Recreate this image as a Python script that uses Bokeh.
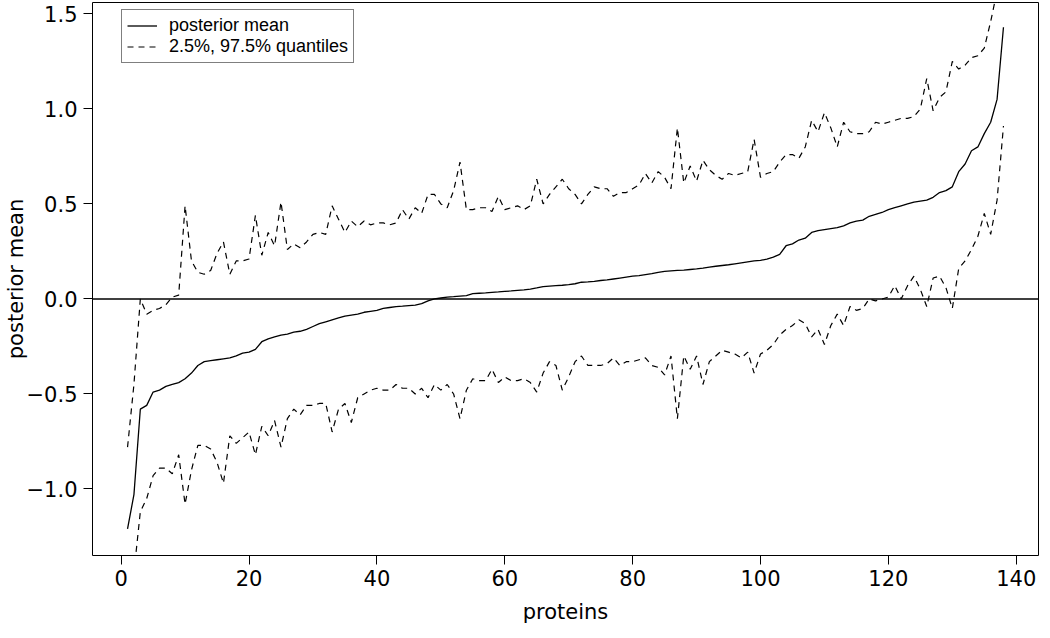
from bokeh.plotting import figure
from bokeh.models import (Range1d, FixedTicker, CustomJSTickFormatter, Span,
                          Legend, LegendItem, ColumnDataSource)
from bokeh.embed import file_html
from bokeh.resources import INLINE

# ---------------- data ----------------
protein = list(range(1, 139))

post_mean = [
    -1.21, -1.03, -0.58, -0.56, -0.49, -0.48, -0.46, -0.45, -0.44, -0.42,
    -0.39, -0.35, -0.33, -0.325, -0.32, -0.315, -0.31, -0.30, -0.285, -0.28,
    -0.265, -0.225, -0.21, -0.20, -0.19, -0.185, -0.175, -0.17, -0.16, -0.145,
    -0.13, -0.12, -0.11, -0.10, -0.09, -0.085, -0.08, -0.07, -0.065, -0.06,
    -0.05, -0.045, -0.04, -0.038, -0.035, -0.033, -0.025, -0.01, 0.0, 0.005,
    0.01, 0.012, 0.015, 0.018, 0.028, 0.03, 0.032, 0.035, 0.037, 0.04,
    0.042, 0.045, 0.048, 0.052, 0.058, 0.065, 0.068, 0.07, 0.072, 0.075,
    0.08, 0.088, 0.09, 0.093, 0.097, 0.10, 0.105, 0.11, 0.115, 0.12,
    0.123, 0.128, 0.133, 0.14, 0.145, 0.148, 0.15, 0.152, 0.155, 0.158,
    0.162, 0.168, 0.172, 0.176, 0.18, 0.185, 0.19, 0.195, 0.20, 0.203,
    0.21, 0.22, 0.235, 0.28, 0.29, 0.31, 0.32, 0.35, 0.36, 0.365,
    0.37, 0.375, 0.385, 0.40, 0.41, 0.415, 0.435, 0.445, 0.455, 0.47,
    0.48, 0.49, 0.50, 0.51, 0.515, 0.52, 0.535, 0.56, 0.57, 0.59,
    0.67, 0.71, 0.78, 0.80, 0.87, 0.93, 1.05, 1.43,
]

q975 = [
    -0.78, -0.45, 0.0, -0.08, -0.06, -0.05, -0.03, 0.01, 0.02, 0.49,
    0.20, 0.14, 0.13, 0.15, 0.24, 0.30, 0.13, 0.20, 0.20, 0.21,
    0.44, 0.23, 0.35, 0.28, 0.51, 0.26, 0.29, 0.27, 0.30, 0.34,
    0.35, 0.34, 0.49, 0.42, 0.35, 0.41, 0.38, 0.41, 0.39, 0.40,
    0.40, 0.39, 0.40, 0.47, 0.42, 0.48, 0.45, 0.55, 0.55, 0.50,
    0.48, 0.57, 0.72, 0.47, 0.47, 0.48, 0.48, 0.46, 0.54, 0.47,
    0.48, 0.49, 0.47, 0.49, 0.63, 0.50, 0.55, 0.59, 0.63, 0.58,
    0.55, 0.50, 0.55, 0.59, 0.58, 0.58, 0.54, 0.56, 0.56, 0.58,
    0.60, 0.66, 0.61, 0.67, 0.64, 0.58, 0.90, 0.61, 0.70, 0.62,
    0.73, 0.68, 0.65, 0.63, 0.66, 0.65, 0.66, 0.67, 0.84, 0.64,
    0.66, 0.67, 0.72, 0.76, 0.76, 0.74, 0.80, 0.94, 0.88, 0.98,
    0.90, 0.80, 0.93, 0.88, 0.87, 0.87, 0.88, 0.93, 0.92, 0.93,
    0.94, 0.95, 0.95, 0.96, 1.00, 1.16, 0.99, 1.06, 1.09, 1.25,
    1.21, 1.23, 1.27, 1.28, 1.32, 1.46, 1.62, 1.95,
]

q025 = [
    -1.85, -1.44, -1.12, -1.05, -0.93, -0.89, -0.89, -0.92, -0.82, -1.08,
    -0.90, -0.77, -0.77, -0.79, -0.86, -0.97, -0.72, -0.76, -0.73, -0.70,
    -0.82, -0.67, -0.72, -0.64, -0.78, -0.63, -0.58, -0.61, -0.56, -0.56,
    -0.55, -0.55, -0.70, -0.58, -0.55, -0.65, -0.52, -0.50, -0.48, -0.47,
    -0.48, -0.48, -0.45, -0.47, -0.47, -0.50, -0.47, -0.52, -0.45, -0.48,
    -0.45, -0.50, -0.63, -0.48, -0.42, -0.43, -0.43, -0.37, -0.44, -0.41,
    -0.43, -0.43, -0.42, -0.44, -0.49, -0.39, -0.33, -0.35, -0.48, -0.41,
    -0.33, -0.30, -0.35, -0.35, -0.35, -0.34, -0.31, -0.35, -0.33, -0.33,
    -0.32, -0.31, -0.35, -0.36, -0.40, -0.30, -0.63, -0.30, -0.37, -0.30,
    -0.45, -0.33, -0.30, -0.27, -0.28, -0.29, -0.31, -0.28, -0.39, -0.29,
    -0.27, -0.24, -0.19, -0.16, -0.14, -0.11, -0.13, -0.20, -0.16, -0.24,
    -0.14, -0.08, -0.14, -0.04, -0.06, -0.05, 0.0, -0.01, 0.0, 0.01,
    0.07, 0.0, 0.07, 0.12, 0.05, -0.04, 0.11, 0.12, 0.06, -0.05,
    0.16, 0.20, 0.26, 0.33, 0.45, 0.34, 0.52, 0.91,
]

x_ticks = [0, 20, 40, 60, 80, 100, 120, 140]
y_ticks = [-1.0, -0.5, 0.0, 0.5, 1.0, 1.5]
zero_level = 0.0

x_label = "proteins"
y_label = "posterior mean"
legend_labels = ["posterior mean", "2.5%, 97.5% quantiles"]

# ---------------- figure ----------------
AX_FONT = "DejaVu Sans"
AX_SIZE = "21px"

p = figure(width=1042, height=630, output_backend="svg", toolbar_location=None,
           x_range=Range1d(-4.48, 143.48), y_range=Range1d(-1.35, 1.56),
           min_border_left=82, min_border_right=4, min_border_top=2,
           min_border_bottom=75)

p.background_fill_color = "white"
p.border_fill_color = "white"
p.outline_line_color = "black"
p.outline_line_width = 1
p.xgrid.visible = False
p.ygrid.visible = False

src = ColumnDataSource(dict(x=protein, m=post_mean, hi=q975, lo=q025))

r_mean = p.line("x", "m", source=src, line_color="black", line_width=1.3)
r_hi = p.line("x", "hi", source=src, line_color="black", line_width=1.2,
              line_dash="6 5")
r_lo = p.line("x", "lo", source=src, line_color="black", line_width=1.2,
              line_dash="6 5")

p.add_layout(Span(location=zero_level, dimension="width",
                  line_color="black", line_width=1.5))

for ax in (p.xaxis[0], p.yaxis[0]):
    ax.axis_line_color = None
    ax.major_tick_line_color = "black"
    ax.major_tick_out = 9
    ax.major_tick_in = 0
    ax.minor_tick_line_color = None
    ax.major_label_text_font = AX_FONT
    ax.major_label_text_font_size = AX_SIZE
    ax.major_label_text_color = "black"
    ax.axis_label_text_font = AX_FONT
    ax.axis_label_text_font_size = AX_SIZE
    ax.axis_label_text_font_style = "normal"
    ax.axis_label_text_color = "black"

p.xaxis.ticker = FixedTicker(ticks=x_ticks)
p.yaxis.ticker = FixedTicker(ticks=y_ticks)
p.yaxis.formatter = CustomJSTickFormatter(
    code="return tick.toFixed(1).replace('-', '\u2212');")
p.yaxis.major_label_orientation = "horizontal"

p.xaxis.axis_label = x_label
p.yaxis.axis_label = y_label
p.xaxis.major_label_standoff = 5
p.xaxis.axis_label_standoff = 11
p.yaxis.major_label_standoff = 6
p.yaxis.axis_label_standoff = -4

legend = Legend(items=[LegendItem(label=legend_labels[0], renderers=[r_mean]),
                       LegendItem(label=legend_labels[1], renderers=[r_hi])],
                location=(29, 492))
legend.border_line_color = "black"
legend.border_line_width = 1
legend.background_fill_color = "white"
legend.background_fill_alpha = 1
legend.padding = 5
legend.spacing = 0
legend.margin = 0
legend.glyph_width = 30
legend.glyph_height = 21
legend.label_height = 21
legend.label_standoff = 12
legend.label_text_font = "Liberation Sans"
legend.label_text_font_size = "18px"
legend.label_text_color = "black"
p.add_layout(legend)

open("out.html", "w").write(file_html(p, INLINE))
